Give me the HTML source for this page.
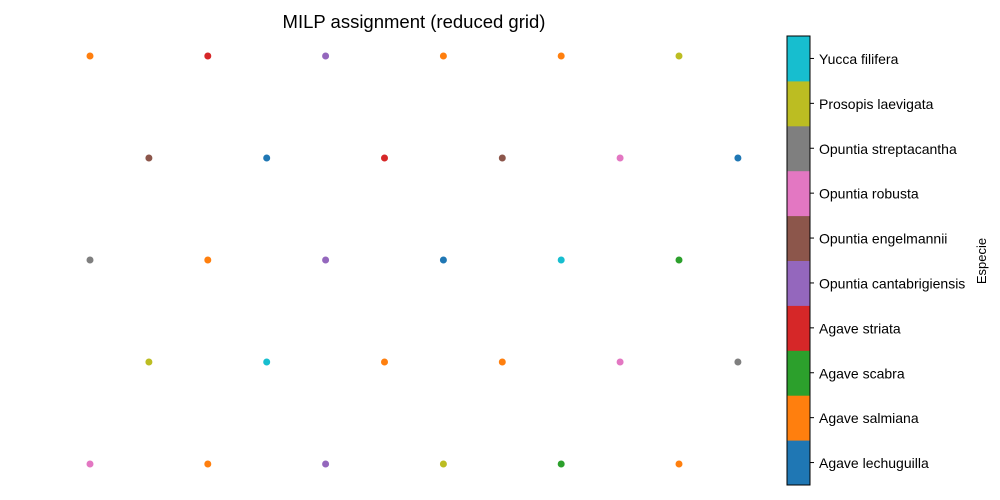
<!DOCTYPE html>
<html><head><meta charset="utf-8"><style>
body{margin:0;background:#fff}
svg{display:block;font-family:"Liberation Sans","DejaVu Sans",sans-serif}
</style></head><body>
<svg id="c" width="1000" height="500">
<text x="414" y="28" font-size="18.5" text-anchor="middle">MILP assignment (reduced grid)</text>
<g id="pts"></g>
<g id="cbar"></g>
<text transform="translate(986,261) rotate(-90)" font-size="13" text-anchor="middle">Especie</text>
</svg>
<script>
const species=["Agave lechuguilla","Agave salmiana","Agave scabra","Agave striata","Opuntia cantabrigiensis","Opuntia engelmannii","Opuntia robusta","Opuntia streptacantha","Prosopis laevigata","Yucca filifera"];
const colors=["#1f77b4","#ff7f0e","#2ca02c","#d62728","#9467bd","#8c564b","#e377c2","#7f7f7f","#bcbd22","#17becf"];
const px=[0,2,4,6,8,10, 1,3,5,7,9,11, 0,2,4,6,8,10, 1,3,5,7,9,11, 0,2,4,6,8,10];
const py=[4,4,4,4,4,4, 3,3,3,3,3,3, 2,2,2,2,2,2, 1,1,1,1,1,1, 0,0,0,0,0,0];
const cls=[1,3,4,1,1,8, 5,0,3,5,6,0, 7,1,4,0,9,2, 8,9,1,1,6,7, 6,1,4,8,2,1];
(function(){
const NS="http://www.w3.org/2000/svg";
const sx=v=>90+v*58.9, sy=v=>464-v*102;
const g=document.getElementById('pts');
for(let i=0;i<px.length;i++){
 const c=document.createElementNS(NS,'circle');
 c.setAttribute('cx',sx(px[i]));c.setAttribute('cy',sy(py[i]));c.setAttribute('r',3.5);
 c.setAttribute('fill',colors[cls[i]]);
 
 
 g.appendChild(c);
}
const cb=document.getElementById('cbar');
const yTop=36,yBot=485,x0=787,w=23,h=(yBot-yTop)/species.length;
for(let i=0;i<species.length;i++){
 const y=yBot-(i+1)*h;
 const r=document.createElementNS(NS,'rect');
 r.setAttribute('x',x0);r.setAttribute('y',y);r.setAttribute('width',w);r.setAttribute('height',h+0.5);
 r.setAttribute('fill',colors[i]);
 
 
 cb.appendChild(r);
 const cy=y+h/2;
 const t=document.createElementNS(NS,'line');
 t.setAttribute('x1',x0+w);t.setAttribute('x2',x0+w+4);t.setAttribute('y1',cy);t.setAttribute('y2',cy);t.setAttribute('stroke','#000');
 
 
 cb.appendChild(t);
 const l=document.createElementNS(NS,'text');
 l.setAttribute('x',819);l.setAttribute('y',cy+5.5);l.setAttribute('font-size','14');
 l.textContent=species[i];
 
 
 cb.appendChild(l);
}
const o=document.createElementNS(NS,'rect');
o.setAttribute('x',x0);o.setAttribute('y',yTop);o.setAttribute('width',w);o.setAttribute('height',yBot-yTop);
o.setAttribute('fill','none');o.setAttribute('stroke','#000');


cb.appendChild(o);
})();
</script>
</body></html>
